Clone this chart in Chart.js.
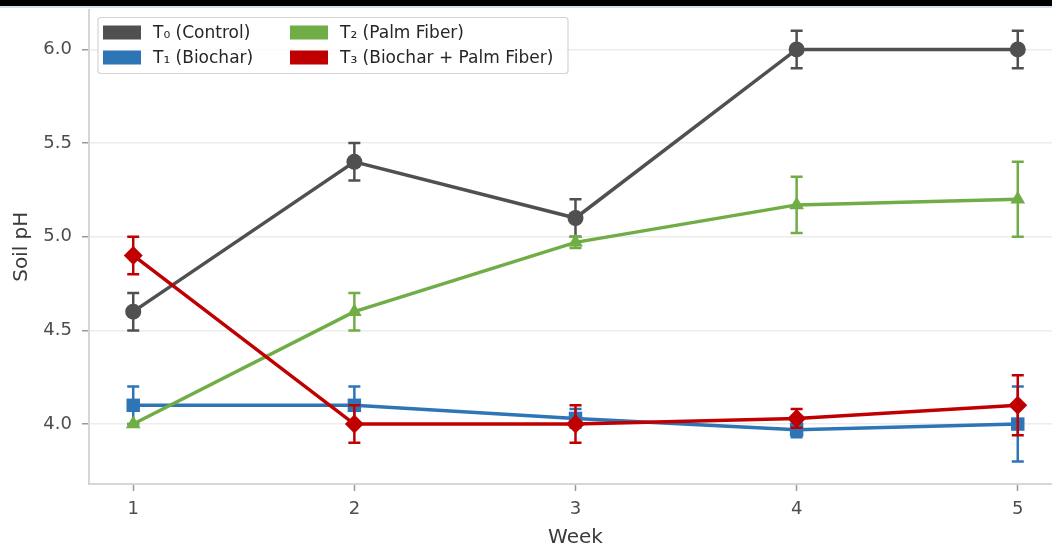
<!DOCTYPE html>
<html>
<head>
<meta charset="utf-8">
<script src="https://cdn.jsdelivr.net/npm/chart.js@4/dist/chart.umd.min.js"></script>
<style>
  html, body { margin: 0; padding: 0; background: #fff; overflow: hidden; }
  .topbar { position: absolute; left: 0; top: 0; width: 1052px; height: 6px; background: #000; border-bottom: 2px solid #d6e0eb; z-index: 2; }
  .wrap { position: absolute; left: 0; top: 0; width: 1075px; height: 546px; }
</style>
</head>
<body>
<div class="topbar"></div>
<div class="wrap"><canvas id="phChart" width="1075" height="546"></canvas></div>
<script>
const weeks = [1, 2, 3, 4, 5];
const yTicks = [4.0, 4.5, 5.0, 5.5, 6.0];

const labels = ["T\u2080 (Control)", "T\u2081 (Biochar)", "T\u2082 (Palm Fiber)", "T\u2083 (Biochar + Palm Fiber)"];

const phControl = [4.6, 5.4, 5.1, 6.0, 6.0];
const errControl = [0.1, 0.1, 0.1, 0.1, 0.1];

const phBiochar = [4.1, 4.1, 4.03, 3.97, 4.0];
const errBiochar = [0.1, 0.1, 0.05, 0.04, 0.2];

const phPalm = [4.0, 4.6, 4.97, 5.17, 5.2];
const errPalm = [0.0, 0.1, 0.03, 0.15, 0.2];

const phMix = [4.9, 4.0, 4.0, 4.03, 4.1];
const errMix = [0.1, 0.1, 0.1, 0.05, 0.16];

const FONT = "'DejaVu Sans', sans-serif";

function series(label, values, errs, color, style, radius, order) {
  return {
    label: label,
    data: weeks.map((w, i) => ({ x: w, y: values[i] })),
    errors: errs,
    borderColor: color,
    backgroundColor: color,
    borderWidth: 3.5,
    pointStyle: style,
    pointRadius: radius,
    pointBorderWidth: 0,
    pointBackgroundColor: color,
    order: order,
    clip: false
  };
}

// vertical error bars with caps, drawn under each line
const errorBars = {
  id: "errorBars",
  beforeDatasetDraw(chart, args) {
    const ds = chart.data.datasets[args.index];
    const xs = chart.scales.x, ys = chart.scales.y;
    const ctx = chart.ctx;
    ctx.save();
    ctx.strokeStyle = ds.borderColor;
    ctx.lineWidth = 2.5;
    ds.data.forEach((p, i) => {
      const e = ds.errors[i];
      const px = xs.getPixelForValue(p.x);
      const top = ys.getPixelForValue(p.y + e);
      const bot = ys.getPixelForValue(p.y - e);
      ctx.beginPath();
      ctx.moveTo(px, top); ctx.lineTo(px, bot);
      ctx.moveTo(px - 6, top); ctx.lineTo(px + 6, top);
      ctx.moveTo(px - 6, bot); ctx.lineTo(px + 6, bot);
      ctx.stroke();
    });
    ctx.restore();
  }
};

// two-column legend box in the upper left of the plot
const boxLegend = {
  id: "boxLegend",
  afterDraw(chart) {
    const ctx = chart.ctx;
    const area = chart.chartArea;
    const x0 = area.left + 9, y0 = area.top + 8;
    const w = 470, h = 56;
    ctx.save();
    ctx.fillStyle = "rgba(255,255,255,0.85)";
    ctx.strokeStyle = "#d4d4d4";
    ctx.lineWidth = 1.2;
    ctx.beginPath();
    ctx.roundRect(x0, y0, w, h, 3);
    ctx.fill();
    ctx.stroke();
    // column-major: T0, T1 | T2, T3
    const cols = [[0, 1], [2, 3]];
    const colX = [x0 + 5, x0 + 192];
    const rowY = [y0 + 15, y0 + 40];
    ctx.font = "17px " + FONT;
    ctx.textBaseline = "middle";
    cols.forEach((col, c) => {
      col.forEach((di, r) => {
        const ds = chart.data.datasets[di];
        ctx.fillStyle = ds.borderColor;
        ctx.fillRect(colX[c], rowY[r] - 7, 38, 14);
        ctx.fillStyle = "#262626";
        ctx.fillText(ds.label, colX[c] + 50, rowY[r] + 1);
      });
    });
    ctx.restore();
  }
};

new Chart(document.getElementById("phChart"), {
  type: "line",
  data: {
    datasets: [
      series(labels[0], phControl, errControl, "#505050", "circle", 8, 3),
      series(labels[1], phBiochar, errBiochar, "#2e75b6", "rect", 9.5, 2),
      series(labels[2], phPalm, errPalm, "#70ad47", "triangle", 8.5, 1),
      series(labels[3], phMix, errMix, "#c00000", "rectRot", 9.5, 0)
    ]
  },
  options: {
    responsive: false,
    animation: false,
    devicePixelRatio: 1,
    layout: { padding: { top: 9, right: 13, left: 0, bottom: 0 } },
    plugins: { legend: { display: false }, tooltip: { enabled: false } },
    elements: { line: { tension: 0 } },
    scales: {
      x: {
        type: "linear",
        min: 0.8,
        max: 5.2,
        afterBuildTicks: (s) => { s.ticks = weeks.map((v) => ({ value: v })); },
        afterFit: (s) => { s.height = 62; s.paddingLeft = 0; s.paddingRight = 0; },
        grid: { drawOnChartArea: false, tickLength: 7, tickColor: "#9a9a9a", tickWidth: 1.5 },
        border: { color: "#d6d6d6", width: 2 },
        ticks: { color: "#4d4d4d", font: { family: FONT, size: 18 }, padding: 8 },
        title: { display: true, text: "Week", color: "#3a3a3a", font: { family: FONT, size: 20, lineHeight: 0.8 }, padding: { top: 0, bottom: 0 } }
      },
      y: {
        min: 3.68,
        max: 6.213,
        afterBuildTicks: (s) => { s.ticks = yTicks.map((v) => ({ value: v })); },
        afterFit: (s) => { s.width = 89; s.paddingTop = 0; s.paddingBottom = 0; },
        grid: { color: "#ececec", lineWidth: 1.5, tickLength: 7, tickColor: "#9a9a9a", tickWidth: 1.5 },
        border: { color: "#d6d6d6", width: 2 },
        ticks: { color: "#4d4d4d", font: { family: FONT, size: 18 }, padding: 10, callback: (v) => v.toFixed(1) },
        title: { display: true, text: "Soil pH", color: "#3a3a3a", font: { family: FONT, size: 20 }, padding: { top: 10, bottom: 0 } }
      }
    }
  },
  plugins: [errorBars, boxLegend]
});
</script>
</body>
</html>
